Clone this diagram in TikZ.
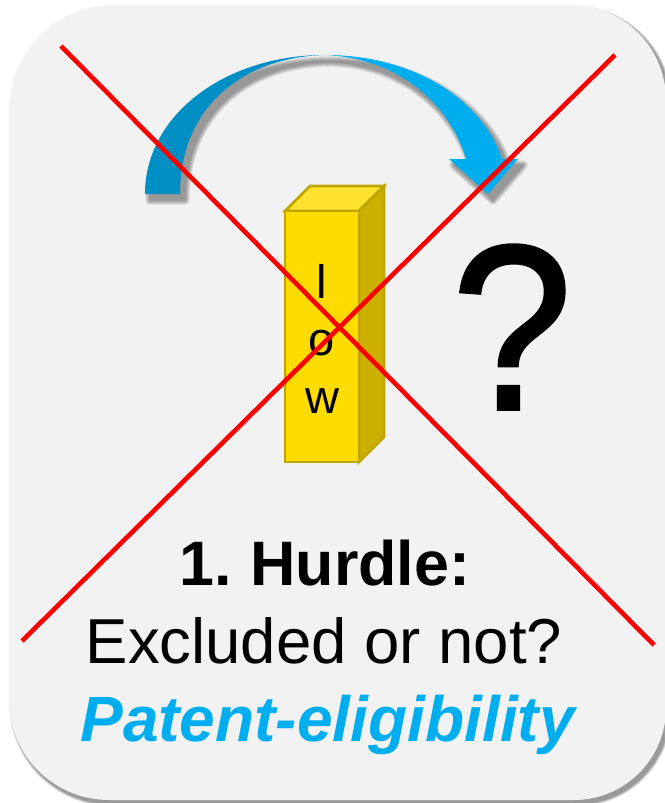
\documentclass[tikz,border=0pt]{standalone}
\usepackage{fontspec}
\setmainfont{Liberation Sans}
\newfontfamily\heavyfont[FakeBold=1.2]{Liberation Sans}
\definecolor{panelgrey}{HTML}{F2F2F2}
\definecolor{arrowlight}{HTML}{00AEEF}
\definecolor{arrowdark}{HTML}{008FC5}
\definecolor{barfront}{HTML}{FFDC00}
\definecolor{bartop}{HTML}{FFE22F}
\definecolor{barside}{HTML}{CCB000}
\definecolor{baredge}{HTML}{BFA500}
\definecolor{crossred}{HTML}{FF0000}
\tikzset{
  barface/.style={draw=baredge,line width=2.8pt,line join=miter},
  crossline/.style={draw=crossred,line width=4.6pt},
  barletter/.style={inner sep=0pt,anchor=base,font=\fontsize{47}{47}\selectfont},
  caption/.style={inner sep=0pt,anchor=base,align=center},
}
% Soft shadow: stacked translucent groups of a path, growing outward
\newcommand{\softshadow}[4]{%
  \foreach \w in {#4}{%
    \begin{scope}[transparency group,opacity=#3]
      \fill[black,draw=black,line width=\w pt,line join=round,shift={(#1)}] #2;
    \end{scope}%
  }%
}
\begin{document}
\begin{tikzpicture}[x=1pt,y=-1pt]
\useasboundingbox (0,0) rectangle (664,803);
\fill[white] (0,0) rectangle (664,803);

% Rounded card with its shadow along the right and lower edges
\def\cardpath{(9,400) [rounded corners=105pt] -- (9,5) [rounded corners=95pt] -- (666,5) [rounded corners=92pt] -- (666,800) [rounded corners=100pt] -- (9,800) [sharp corners] -- cycle}
\softshadow{3,3.5}{\cardpath}{0.08}{6,5,4,3,2,1}
\fill[panelgrey] \cardpath;

% Curved arrow: one shadow for the whole outline, then the two halves
\def\arcleft{(145,194) .. controls (145,115) and (225,55) .. (325,55) .. controls (245,57) and (180,105) .. (180,194) -- cycle}
\def\arcright{(325,55) .. controls (415,55) and (482,100) .. (502,159) -- (518,159) -- (488,194) -- (449,159) -- (466,159) .. controls (448,100) and (395,58) .. (325,55) -- cycle}
\def\arcwhole{(145,194) .. controls (145,115) and (225,55) .. (325,55) .. controls (415,55) and (482,100) .. (502,159) -- (518,159) -- (488,194) -- (449,159) -- (466,159) .. controls (448,100) and (395,58) .. (325,56) .. controls (245,57) and (180,105) .. (180,194) -- cycle}
\softshadow{5,6}{\arcwhole}{0.045}{10,9,8,7,6,5,4,3,2,1}
\fill[arrowdark] \arcleft;
\fill[arrowlight] \arcright;

% Three-dimensional bar
\coordinate (fa) at (285,211);
\coordinate (fb) at (359,211);
\coordinate (fc) at (359,462);
\coordinate (fd) at (285,462);
\coordinate (ba) at (310,186);
\coordinate (bb) at (384,186);
\coordinate (bc) at (384,437);
\draw[barface,fill=bartop] (fa) -- (ba) -- (bb) -- (fb) -- cycle;
\draw[barface,fill=barside] (fb) -- (bb) -- (bc) -- (fc) -- cycle;
\draw[barface,fill=barfront] (fa) -- (fb) -- (fc) -- (fd) -- cycle;
\node[barletter] (letterl) at (321.5,298) {l};
\node[barletter] (lettero) at (322,355) {o};
\node[barletter] (letterw) at (322.5,413) {w};

% Question mark
\node[inner sep=0pt,anchor=base,xscale=0.92,font=\fontsize{236}{236}\heavyfont] (query) at (512,409.5) {?};

% Caption lines
\node[caption,font=\fontsize{62.8}{62.8}\selectfont\bfseries] (hurdle) at (325,585) {1.\hspace{-0.08em} Hurdle:};
\node[caption,font=\fontsize{63.5}{63.5}\selectfont] (excluded) at (324,663) {Excluded or not?};
\node[caption,text=arrowlight,font=\fontsize{64}{64}\selectfont\bfseries\itshape] (eligibility) at (327.5,741) {Patent-eligibility};

% Red cross over everything
\coordinate (c1) at (61,46);
\coordinate (c2) at (654,645);
\coordinate (c3) at (615,55);
\coordinate (c4) at (22,641);
\draw[crossline] (c1) -- (c2);
\draw[crossline] (c3) -- (c4);
\end{tikzpicture}
\end{document}
